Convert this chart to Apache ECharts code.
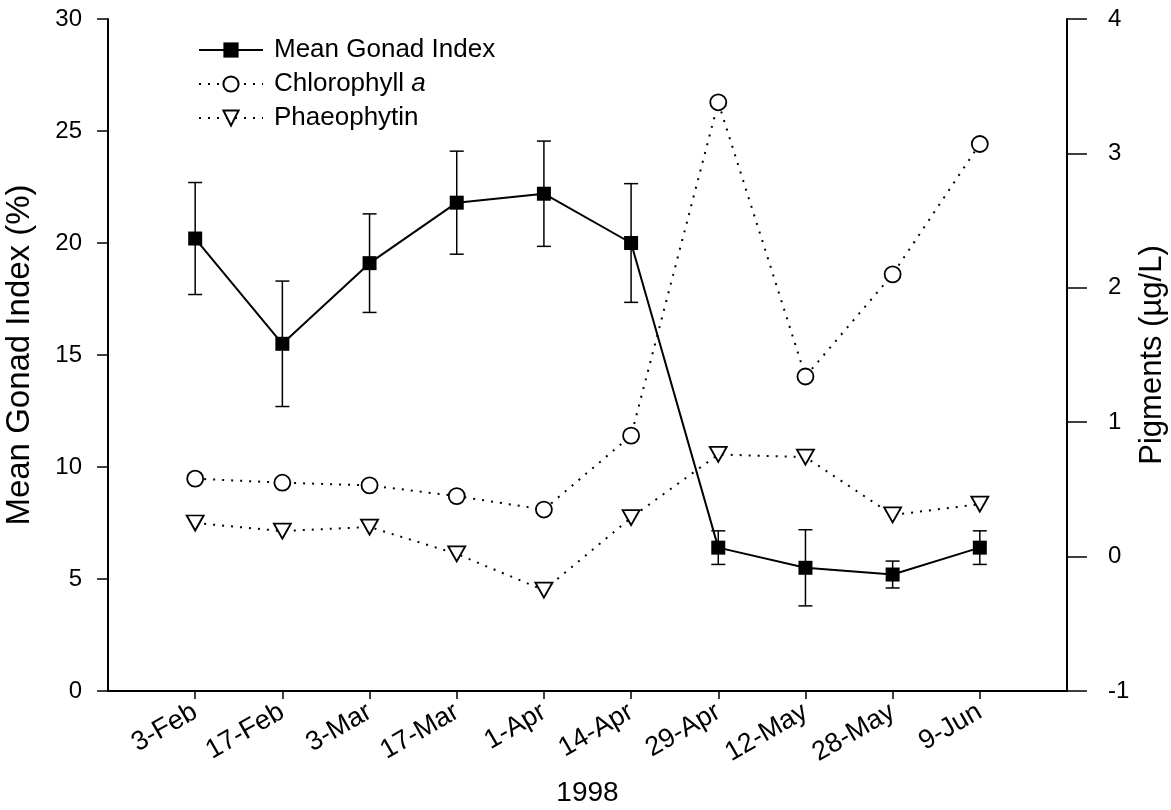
<!DOCTYPE html>
<html>
<head>
<meta charset="utf-8">
<script src="https://cdn.jsdelivr.net/npm/echarts@6/dist/echarts.min.js"></script>
<style>
  html, body { margin: 0; padding: 0; background: #fff; }
  #chart { width: 1171px; height: 810px; }
</style>
</head>
<body>
<div id="chart"></div>
<script>
// Sampling dates (1998)
const dates = ['3-Feb', '17-Feb', '3-Mar', '17-Mar', '1-Apr', '14-Apr', '29-Apr', '12-May', '28-May', '9-Jun'];
// Mean gonad index (%) and its error half-width
const gonadMean = [20.2, 15.5, 19.1, 21.8, 22.2, 20.0, 6.4, 5.5, 5.2, 6.4];
const gonadErr = [2.5, 2.8, 2.2, 2.3, 2.35, 2.65, 0.75, 1.7, 0.6, 0.75];
// Pigments (µg/L)
const chlorophyll = [0.58, 0.55, 0.53, 0.45, 0.35, 0.90, 3.38, 1.34, 2.10, 3.07];
const phaeophytin = [0.25, 0.19, 0.22, 0.02, -0.25, 0.29, 0.76, 0.74, 0.31, 0.39];

const FONT = '"Liberation Sans", Arial, Helvetica, sans-serif';
const pos = dates.map((d, i) => i + 1);          // dates sit on slots 1..n
const pair = arr => arr.map((v, i) => [pos[i], v]);
const errData = gonadMean.map((m, i) => [pos[i], m - gonadErr[i], m + gonadErr[i]]);

const chart = echarts.init(document.getElementById('chart'), null, { renderer: 'canvas' });

chart.setOption({
  animation: false,
  backgroundColor: '#fff',
  textStyle: { fontFamily: FONT, color: '#000' },
  grid: { left: 108, right: 104, top: 19, bottom: 119, containLabel: false, outerBoundsMode: 'none' },
  legend: {
    orient: 'vertical',
    left: 193,
    top: 32,
    itemWidth: 64,
    itemHeight: 19,
    itemGap: 8,
    data: ['Mean Gonad Index', 'Chlorophyll a', 'Phaeophytin'],
    formatter: name => name === 'Chlorophyll a' ? '{n|Chlorophyll }{i|a}' : '{n|' + name + '}',
    textStyle: {
      fontFamily: FONT, fontSize: 26, color: '#000', padding: [0, 0, 0, 6],
      rich: {
        n: { fontFamily: FONT, fontSize: 26, color: '#000', lineHeight: 29 },
        i: { fontFamily: FONT, fontSize: 26, color: '#000', fontStyle: 'italic', lineHeight: 29 }
      }
    }
  },
  xAxis: {
    type: 'value',
    min: 0,
    max: dates.length + 1,
    interval: 1,
    splitLine: { show: false },
    axisLine: { show: true, onZero: false, lineStyle: { color: '#000', width: 2 } },
    axisTick: { show: true, customValues: pos, length: 8, lineStyle: { color: '#000', width: 1.5 } },
    axisLabel: {
      customValues: pos,
      formatter: v => dates[Math.round(v) - 1] || '',
      rotate: 30,
      margin: 19,
      fontSize: 27,
      fontFamily: FONT,
      color: '#000'
    },
    name: '1998',
    nameLocation: 'middle',
    nameGap: 88,
    nameMoveOverlap: false,
    nameTextStyle: { fontSize: 28, fontFamily: FONT, color: '#000' }
  },
  yAxis: [
    {
      type: 'value',
      min: 0,
      max: 30,
      interval: 5,
      position: 'left',
      splitLine: { show: false },
      axisLine: { show: true, onZero: false, lineStyle: { color: '#000', width: 2 } },
      axisTick: { show: true, length: 11, lineStyle: { color: '#000', width: 1.5 } },
      axisLabel: { margin: 26, fontSize: 24, fontFamily: FONT, color: '#000' },
      name: 'Mean Gonad Index (%)',
      nameLocation: 'middle',
      nameGap: 72,
      nameMoveOverlap: false,
      nameTextStyle: { fontSize: 33, fontFamily: FONT, color: '#000' }
    },
    {
      type: 'value',
      min: -1,
      max: 4,
      interval: 1,
      position: 'right',
      splitLine: { show: false },
      axisLine: { show: true, onZero: false, lineStyle: { color: '#000', width: 2 } },
      axisTick: { show: true, length: 20, lineStyle: { color: '#000', width: 1.5 } },
      axisLabel: { margin: 41, fontSize: 24, fontFamily: FONT, color: '#000' },
      name: 'Pigments (µg/L)',
      nameLocation: 'middle',
      nameGap: 70,
      nameRotate: 90,
      nameMoveOverlap: false,
      nameTextStyle: { fontSize: 31, fontFamily: FONT, color: '#000' }
    }
  ],
  series: [
    {
      name: 'Chlorophyll a',
      type: 'line',
      yAxisIndex: 1,
      data: pair(chlorophyll),
      symbol: 'circle',
      symbolSize: 16,
      z: 2,
      lineStyle: { color: '#000', width: 2, type: [2, 7] },
      itemStyle: { color: '#fff', borderColor: '#000', borderWidth: 1.8 }
    },
    {
      name: 'Phaeophytin',
      type: 'line',
      yAxisIndex: 1,
      data: pair(phaeophytin),
      symbol: 'triangle',
      symbolRotate: 180,
      symbolSize: [17, 15],
      z: 2,
      lineStyle: { color: '#000', width: 2, type: [2, 7] },
      itemStyle: { color: '#fff', borderColor: '#000', borderWidth: 1.8 }
    },
    {
      name: 'Gonad error',
      type: 'custom',
      yAxisIndex: 0,
      data: errData,
      z: 3,
      silent: true,
      renderItem: (params, api) => {
        const x = api.value(0);
        const lo = api.coord([x, api.value(1)]);
        const hi = api.coord([x, api.value(2)]);
        const half = 7;
        const style = { stroke: '#000', lineWidth: 1.5 };
        return {
          type: 'group',
          children: [
            { type: 'line', shape: { x1: lo[0], y1: lo[1], x2: hi[0], y2: hi[1] }, style },
            { type: 'line', shape: { x1: hi[0] - half, y1: hi[1], x2: hi[0] + half, y2: hi[1] }, style },
            { type: 'line', shape: { x1: lo[0] - half, y1: lo[1], x2: lo[0] + half, y2: lo[1] }, style }
          ]
        };
      }
    },
    {
      name: 'Mean Gonad Index',
      type: 'line',
      yAxisIndex: 0,
      data: pair(gonadMean),
      symbol: 'rect',
      symbolSize: 14,
      z: 4,
      lineStyle: { color: '#000', width: 2 },
      itemStyle: { color: '#000', borderColor: '#000', borderWidth: 0 }
    }
  ]
});
</script>
</body>
</html>
